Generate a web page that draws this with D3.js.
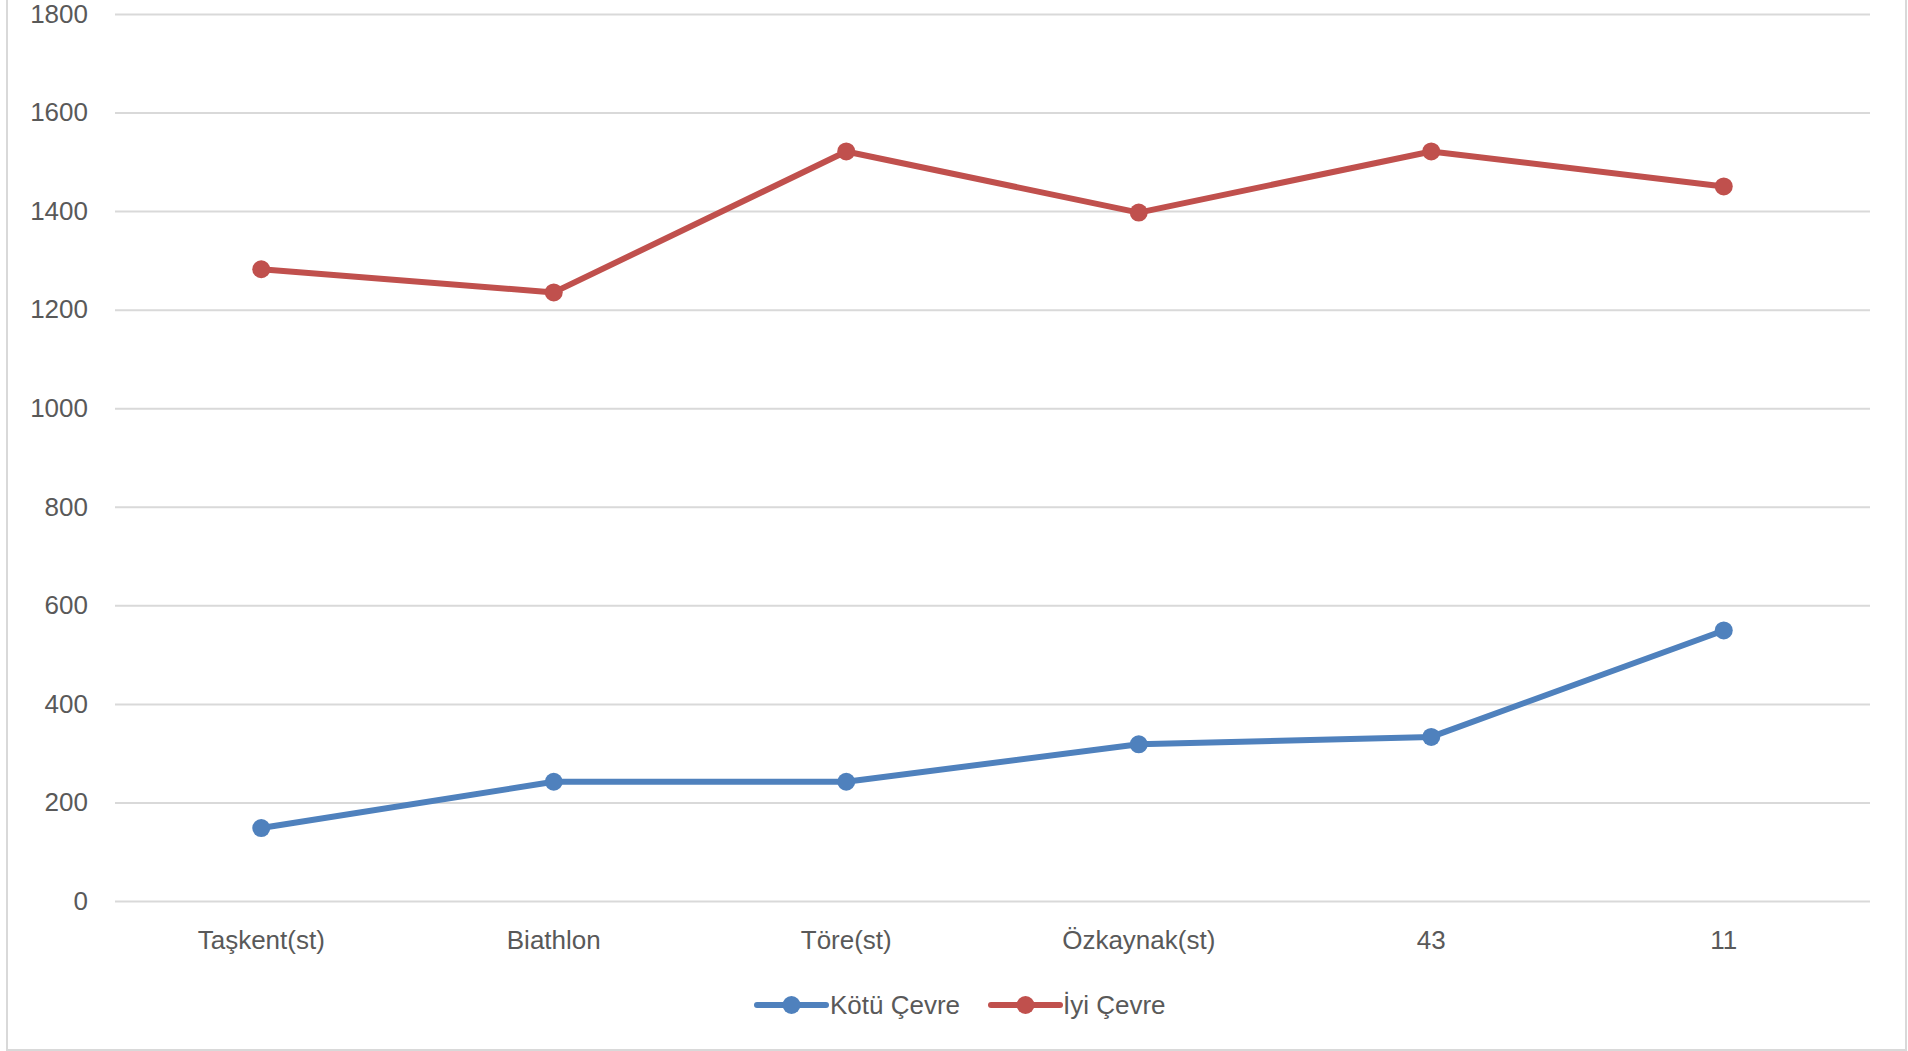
<!DOCTYPE html>
<html>
<head>
<meta charset="utf-8">
<script src="https://cdn.jsdelivr.net/npm/d3@7"></script>
<style>
  html, body { margin: 0; padding: 0; background: #fff; }
  svg { display: block; }
  text { font-family: "Liberation Sans", Arial, sans-serif; fill: #595959; }
</style>
</head>
<body>
<svg id="chart" width="1908" height="1051"></svg>
<script>
const categories = ["Taşkent(st)", "Biathlon", "Töre(st)", "Özkaynak(st)", "43", "11"];
const kotuCevre = [148, 242, 242, 318, 333, 549];
const iyiCevre = [1282, 1235, 1521, 1397, 1521, 1450];
const yTicks = [0, 200, 400, 600, 800, 1000, 1200, 1400, 1600, 1800];
const seriesNames = ["Kötü Çevre", "İyi Çevre"];
const seriesColors = ["#4F81BD", "#C0504D"];

const series = [
  { name: seriesNames[0], values: kotuCevre, color: seriesColors[0] },
  { name: seriesNames[1], values: iyiCevre, color: seriesColors[1] }
];

const svg = d3.select("#chart");

// frame
svg.append("rect")
  .attr("x", 7).attr("y", -10)
  .attr("width", 1899).attr("height", 1060)
  .attr("fill", "#fff").attr("stroke", "#d9d9d9").attr("stroke-width", 2);

const plotLeft = 115, plotRight = 1870, plotTop = 14, plotBottom = 901;

const x = d3.scaleBand().domain(categories).range([plotLeft, plotRight]);
const y = d3.scaleLinear().domain([0, 1800]).range([plotBottom, plotTop]);

// gridlines + y labels
const yAxis = d3.axisLeft(y).tickValues(yTicks).tickSize(-(plotRight - plotLeft)).tickPadding(27).tickFormat(d3.format("d"));
const gy = svg.append("g").attr("transform", `translate(${plotLeft},0)`).call(yAxis);
gy.select(".domain").remove();
gy.selectAll(".tick line").attr("stroke", "#d9d9d9").attr("stroke-width", 2);
gy.selectAll(".tick text").attr("font-size", 26).attr("fill", "#595959")
  .style("font-family", '"Liberation Sans", Arial, sans-serif');

// x axis labels
const xAxis = d3.axisBottom(x).tickSize(0).tickPadding(30);
const gx = svg.append("g").attr("transform", `translate(0,${plotBottom})`).call(xAxis);
gx.select(".domain").remove();
gx.selectAll(".tick text").attr("font-size", 26).attr("fill", "#595959")
  .style("font-family", '"Liberation Sans", Arial, sans-serif');

const cx = d => x(d) + x.bandwidth() / 2;
const line = d3.line().x((d, i) => cx(categories[i])).y(d => y(d));

series.forEach(s => {
  svg.append("path")
    .attr("d", line(s.values))
    .attr("fill", "none")
    .attr("stroke", s.color)
    .attr("stroke-width", 6)
    .attr("stroke-linejoin", "round")
    .attr("stroke-linecap", "round");
  svg.append("g").selectAll("circle").data(s.values).join("circle")
    .attr("cx", (d, i) => cx(categories[i]))
    .attr("cy", d => y(d))
    .attr("r", 9)
    .attr("fill", s.color);
});

// legend
const legendY = 1005;
const legendItems = [
  { x0: 757, x1: 826, tx: 830 },
  { x0: 991, x1: 1060, tx: 1063 }
];
series.forEach((s, i) => {
  const li = legendItems[i];
  const g = svg.append("g");
  g.append("line").attr("x1", li.x0).attr("x2", li.x1).attr("y1", legendY).attr("y2", legendY)
    .attr("stroke", s.color).attr("stroke-width", 6).attr("stroke-linecap", "round");
  g.append("circle").attr("cx", (li.x0 + li.x1) / 2).attr("cy", legendY).attr("r", 9).attr("fill", s.color);
  g.append("text").attr("x", li.tx).attr("y", legendY).attr("dy", "0.35em")
    .attr("font-size", 26).text(s.name);
});
</script>
</body>
</html>
